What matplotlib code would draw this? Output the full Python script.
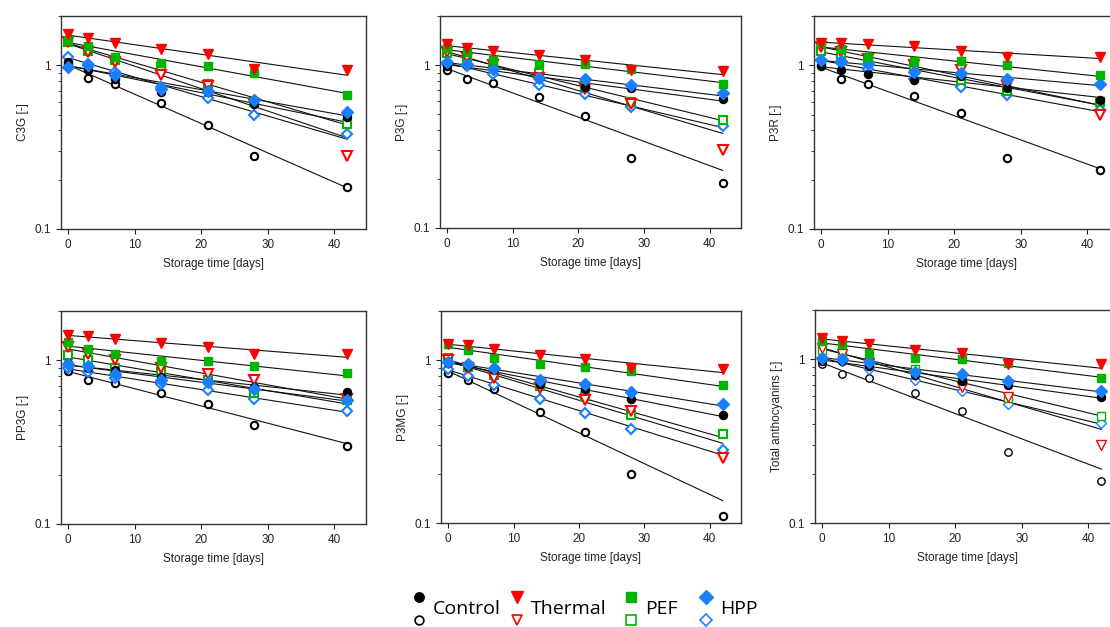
import numpy as np
import matplotlib
matplotlib.use("Agg")
import matplotlib.pyplot as plt
from matplotlib.ticker import LogLocator, NullFormatter, FixedLocator, FixedFormatter

plt.rcParams['font.family'] = ['Liberation Sans', 'DejaVu Sans']

days = [0, 3, 7, 14, 21, 28, 42]

panel_labels = ["C3G [-]", "P3G [-]", "P3R [-]", "PP3G [-]", "P3MG [-]", "Total anthocyanins [-]"]
xlabel = "Storage time [days]"

# series: Control filled/open, Thermal filled/open, PEF filled/open, HPP filled/open
c3g = {
    "ctrl_f": [1.05, 0.93, 0.83, 0.69, 0.69, 0.58, 0.48],
    "ctrl_o": [1.02, 0.84, 0.77, 0.59, 0.43, 0.28, 0.18],
    "th_f":   [1.56, 1.47, 1.37, 1.25, 1.17, 0.95, 0.93],
    "th_o":   [1.38, 1.20, 1.05, 0.87, 0.75, 0.58, 0.28],
    "pef_f":  [1.43, 1.32, 1.13, 1.03, 0.99, 0.90, 0.66],
    "pef_o":  [1.39, 1.23, 1.08, 0.98, 0.77, 0.60, 0.44],
    "hpp_f":  [0.98, 1.00, 0.87, 0.72, 0.70, 0.61, 0.52],
    "hpp_o":  [1.13, 1.02, 0.91, 0.74, 0.63, 0.50, 0.38],
}
p3g = {
    "ctrl_f": [0.98, 1.00, 0.95, 0.83, 0.73, 0.72, 0.62],
    "ctrl_o": [0.93, 0.82, 0.78, 0.64, 0.49, 0.27, 0.19],
    "th_f":   [1.34, 1.27, 1.22, 1.15, 1.07, 0.93, 0.92],
    "th_o":   [1.20, 1.10, 1.00, 0.83, 0.71, 0.58, 0.30],
    "pef_f":  [1.28, 1.21, 1.08, 1.02, 1.01, 0.94, 0.77],
    "pef_o":  [1.19, 1.05, 1.01, 0.89, 0.74, 0.59, 0.46],
    "hpp_f":  [1.05, 1.02, 0.95, 0.83, 0.82, 0.75, 0.67],
    "hpp_o":  [1.02, 0.98, 0.88, 0.75, 0.66, 0.55, 0.42],
}
p3r = {
    "ctrl_f": [1.00, 0.93, 0.89, 0.81, 0.86, 0.73, 0.61],
    "ctrl_o": [0.99, 0.82, 0.77, 0.65, 0.51, 0.27, 0.23],
    "th_f":   [1.37, 1.37, 1.34, 1.31, 1.23, 1.12, 1.13],
    "th_o":   [1.30, 1.20, 1.10, 1.00, 0.93, 0.75, 0.50],
    "pef_f":  [1.37, 1.25, 1.13, 1.06, 1.06, 1.01, 0.87],
    "pef_o":  [1.23, 1.12, 1.06, 0.96, 0.81, 0.70, 0.60],
    "hpp_f":  [1.07, 1.06, 1.02, 0.91, 0.90, 0.83, 0.77],
    "hpp_o":  [1.07, 1.03, 0.95, 0.83, 0.74, 0.66, 0.53],
}
pp3g = {
    "ctrl_f": [0.96, 0.90, 0.87, 0.79, 0.74, 0.69, 0.64],
    "ctrl_o": [0.86, 0.76, 0.73, 0.63, 0.54, 0.40, 0.30],
    "th_f":   [1.43, 1.40, 1.35, 1.27, 1.21, 1.09, 1.09],
    "th_o":   [1.21, 1.10, 1.01, 0.90, 0.82, 0.76, 0.58],
    "pef_f":  [1.29, 1.18, 1.09, 0.99, 0.99, 0.92, 0.84],
    "pef_o":  [1.07, 1.00, 0.90, 0.85, 0.76, 0.63, 0.57],
    "hpp_f":  [0.95, 0.92, 0.83, 0.76, 0.74, 0.67, 0.57],
    "hpp_o":  [0.90, 0.85, 0.78, 0.72, 0.66, 0.58, 0.49],
}
p3mg = {
    "ctrl_f": [0.96, 0.92, 0.87, 0.71, 0.66, 0.58, 0.46],
    "ctrl_o": [0.83, 0.75, 0.66, 0.48, 0.36, 0.20, 0.11],
    "th_f":   [1.26, 1.23, 1.17, 1.08, 1.02, 0.90, 0.88],
    "th_o":   [1.00, 0.90, 0.78, 0.67, 0.57, 0.49, 0.25],
    "pef_f":  [1.25, 1.16, 1.03, 0.94, 0.91, 0.86, 0.70],
    "pef_o":  [1.03, 0.91, 0.81, 0.69, 0.60, 0.46, 0.35],
    "hpp_f":  [0.97, 0.95, 0.89, 0.75, 0.71, 0.64, 0.54],
    "hpp_o":  [0.88, 0.80, 0.70, 0.58, 0.47, 0.38, 0.28],
}
total = {
    "ctrl_f": [0.98, 0.98, 0.91, 0.80, 0.74, 0.70, 0.59],
    "ctrl_o": [0.94, 0.81, 0.77, 0.62, 0.48, 0.27, 0.18],
    "th_f":   [1.35, 1.30, 1.24, 1.14, 1.09, 0.94, 0.93],
    "th_o":   [1.18, 1.08, 0.95, 0.80, 0.68, 0.59, 0.30],
    "pef_f":  [1.29, 1.24, 1.10, 1.02, 1.00, 0.95, 0.77],
    "pef_o":  [1.14, 1.09, 0.98, 0.87, 0.74, 0.58, 0.45],
    "hpp_f":  [1.02, 1.00, 0.96, 0.84, 0.81, 0.74, 0.64],
    "hpp_o":  [1.00, 0.97, 0.87, 0.75, 0.64, 0.53, 0.41],
}
panels = [c3g, p3g, p3r, pp3g, p3mg, total]

legend_names = ["Control", "Thermal", "PEF", "HPP"]
colors = {"ctrl": "#000000", "th": "#ff0000", "pef": "#00b400", "hpp": "#1a7fff"}
markers = {"ctrl": "o", "th": "v", "pef": "s", "hpp": "D"}
msizes = {"ctrl": 5.8, "th": 7.0, "pef": 6.3, "hpp": 5.8}

W, H = 1110, 627
fig = plt.figure(figsize=(W / 100, H / 100), dpi=100)

def pos(l, r, t, b):
    return [l / W, 1 - b / H, (r - l) / W, (b - t) / H]

boxes = [
    pos(61, 366, 16, 229),
    pos(440, 741, 16, 228),
    pos(814, 1119, 16, 229),
    pos(61, 366, 311, 524),
    pos(441, 741, 311, 523),
    pos(815, 1120, 310, 523),
]

t = np.array(days, dtype=float)
tfit = np.linspace(0, 42, 50)
order = ["ctrl_o", "hpp_o", "pef_o", "th_o", "ctrl_f", "hpp_f", "pef_f", "th_f"]

for i, (data, box) in enumerate(zip(panels, boxes)):
    ax = fig.add_axes(box)
    ax.set_yscale('log')
    # exponential (first-order) fit, weighted toward larger values as in a linear-space fit
    for key in order:
        y = np.array(data[key])
        k, b = np.polyfit(t, np.log(y), 1, w=y)
        ax.plot(tfit, np.exp(b + k * tfit), color='#111111', lw=0.8, zorder=2)
    for key in order:
        grp, kind = key.split("_")
        c = colors[grp]
        if kind == "f":
            ax.plot(days, data[key], ls='none', marker=markers[grp], ms=msizes[grp],
                    mfc=c, mec=c, mew=1.0, zorder=4)
        else:
            ax.plot(days, data[key], ls='none', marker=markers[grp], ms=msizes[grp] - 0.5,
                    mfc='white', mec=c, mew=1.5 if i < 5 else 1.0, zorder=3)
    ax.set_xlim(-1.1, 44.8)
    ax.set_ylim(0.1, 2.0)
    ax.yaxis.set_major_locator(FixedLocator([0.1, 1]))
    ax.yaxis.set_major_formatter(FixedFormatter(["0.1", "1"]))
    ax.yaxis.set_minor_locator(LogLocator(base=10, subs=np.arange(2, 10)))
    ax.yaxis.set_minor_formatter(NullFormatter())
    ax.set_xticks([0, 10, 20, 30, 40])
    ax.tick_params(axis='both', which='major', labelsize=8.5, length=3.5, width=0.8,
                   colors='#222222', pad=4)
    ax.tick_params(axis='y', which='minor', length=2, width=0.6, colors='#222222')
    for s in ax.spines.values():
        s.set_color('#333333')
        s.set_linewidth(1.0)
    ax.set_ylabel(panel_labels[i], fontsize=8.5, color='#222222', labelpad=4)
    ax.set_xlabel(xlabel, fontsize=8.5, color='#222222', labelpad=5)

# legend (manual, stacked filled/open markers)
lax = fig.add_axes([0, 0, 1, 1], facecolor='none')
lax.set_xlim(0, W)
lax.set_ylim(H, 0)
lax.axis('off')
leg_x = [419, 517, 631, 706]
for name, grp, x in zip(legend_names, ["ctrl", "th", "pef", "hpp"], leg_x):
    c = colors[grp]
    lax.plot([x], [597], ls='none', marker=markers[grp], ms=msizes[grp] + 1,
             mfc=c, mec=c)
    lax.plot([x], [620], ls='none', marker=markers[grp], ms=msizes[grp] + 0.5,
             mfc='white', mec=c, mew=1.2)
    lax.text(x + 14, 609, name, fontsize=14, family=['Open Sans', 'DejaVu Sans'],
             va='center', ha='left', color='#000000')

fig.savefig("out.png", dpi=100)
